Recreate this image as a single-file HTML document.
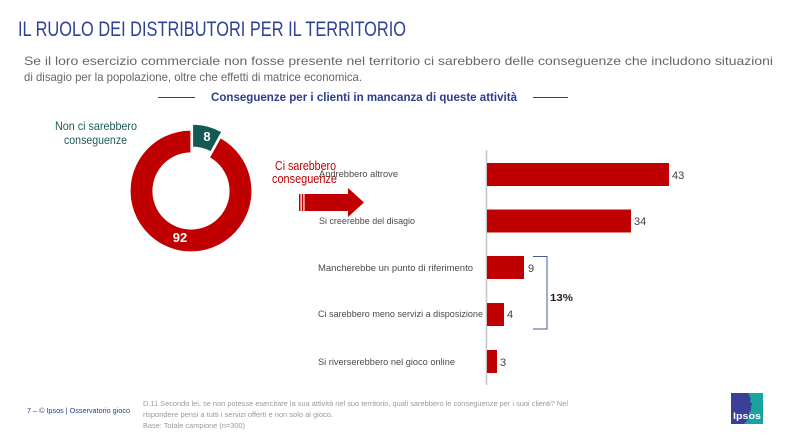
<!DOCTYPE html>
<html>
<head>
<meta charset="utf-8">
<style>
html,body{margin:0;padding:0;background:#fff;}
svg{display:block;}
text{font-family:"Liberation Sans",sans-serif;}
</style>
</head>
<body>
<svg width="786" height="436" viewBox="0 0 786 436" xmlns="http://www.w3.org/2000/svg">
<rect width="786" height="436" fill="#fff"/>

<!-- Title -->
<text x="18" y="36" font-size="21" fill="#2e4193" textLength="388" lengthAdjust="spacingAndGlyphs">IL RUOLO DEI DISTRIBUTORI PER IL TERRITORIO</text>

<!-- Subtitle -->
<text x="24" y="65" font-size="12" fill="#666" textLength="749" lengthAdjust="spacingAndGlyphs">Se il loro esercizio commerciale non fosse presente nel territorio ci sarebbero delle conseguenze che includono situazioni</text>
<text x="24" y="81" font-size="12" fill="#666" textLength="338" lengthAdjust="spacingAndGlyphs">di disagio per la popolazione, oltre che effetti di matrice economica.</text>

<!-- Section heading -->
<line x1="158" y1="97.5" x2="195" y2="97.5" stroke="#2b3d8f" stroke-width="1"/>
<line x1="533" y1="97.5" x2="568" y2="97.5" stroke="#2b3d8f" stroke-width="1"/>
<text x="211" y="101" font-size="12" font-weight="bold" fill="#2b3d8f" textLength="306" lengthAdjust="spacingAndGlyphs">Conseguenze per i clienti in mancanza di queste attività</text>

<!-- Donut -->
<path d="M220.39,137.55 A61,61 0 1 1 191,130 L191,153 A38,38 0 1 0 209.31,157.70 Z" fill="#c00000" stroke="#fff" stroke-width="1.2"/>
<path d="M192.5,124.2 A61,61 0 0 1 221.9,131.75 L210.8,151.9 A38,38 0 0 0 192.5,147.2 Z" fill="#135a55" stroke="#fff" stroke-width="1.2"/>
<text x="207" y="141" font-size="13" font-weight="bold" fill="#fff" text-anchor="middle">8</text>
<text x="180" y="242" font-size="13" font-weight="bold" fill="#fff" text-anchor="middle">92</text>

<text x="55" y="130" font-size="12" fill="#1a5c58" textLength="82" lengthAdjust="spacingAndGlyphs">Non ci sarebbero</text>
<text x="64" y="144" font-size="12" fill="#1a5c58" textLength="63" lengthAdjust="spacingAndGlyphs">conseguenze</text>

<text x="275" y="170" font-size="12.5" fill="#c00000" textLength="61" lengthAdjust="spacingAndGlyphs">Ci sarebbero</text>
<text x="272" y="183" font-size="12.5" fill="#c00000" textLength="65" lengthAdjust="spacingAndGlyphs">conseguenze</text>

<!-- Arrow -->
<rect x="299" y="194" width="1.5" height="17" fill="#c00000"/>
<rect x="301.8" y="194" width="1.5" height="17" fill="#c00000"/>
<polygon points="304.5,194 348,194 348,188 364,202.5 348,217 348,211 304.5,211" fill="#c00000"/>

<!-- Category labels -->
<text x="319" y="177" font-size="9.5" fill="#4a4a4a" textLength="79" lengthAdjust="spacingAndGlyphs">Andrebbero altrove</text>
<text x="319" y="224" font-size="9.5" fill="#4a4a4a" textLength="96" lengthAdjust="spacingAndGlyphs">Si creerebbe del disagio</text>
<text x="318" y="271" font-size="9.5" fill="#4a4a4a" textLength="155" lengthAdjust="spacingAndGlyphs">Mancherebbe un punto di riferimento</text>
<text x="318" y="317" font-size="9.5" fill="#4a4a4a" textLength="165" lengthAdjust="spacingAndGlyphs">Ci sarebbero meno servizi a disposizione</text>
<text x="318" y="365" font-size="9.5" fill="#4a4a4a" textLength="137" lengthAdjust="spacingAndGlyphs">Si riverserebbero nel gioco online</text>

<!-- Axis -->
<line x1="486.5" y1="150" x2="486.5" y2="385" stroke="#c6c6c6" stroke-width="1.5"/>

<!-- Bars -->
<rect x="487" y="163" width="182" height="23" fill="#c00000"/>
<rect x="487" y="209.5" width="144" height="23" fill="#c00000"/>
<rect x="487" y="256" width="37" height="23" fill="#c00000"/>
<rect x="487" y="303" width="17" height="23" fill="#c00000"/>
<rect x="487" y="350" width="10" height="23" fill="#c00000"/>

<!-- Values -->
<text x="672" y="179" font-size="11" fill="#404040">43</text>
<text x="634" y="225" font-size="11" fill="#404040">34</text>
<text x="528" y="272" font-size="11" fill="#404040">9</text>
<text x="507" y="318" font-size="11" fill="#404040">4</text>
<text x="500" y="366" font-size="11" fill="#404040">3</text>

<!-- Bracket -->
<path d="M533,256.5 H547 V329 H533" fill="none" stroke="#4a5a9a" stroke-width="1"/>
<text x="550" y="301" font-size="10.5" font-weight="bold" fill="#222" textLength="23" lengthAdjust="spacingAndGlyphs">13%</text>

<!-- Footer -->
<text x="27" y="413" font-size="7.5" fill="#2b3d8f" textLength="103" lengthAdjust="spacingAndGlyphs">7 –  © Ipsos |  Osservatorio gioco</text>
<text x="143" y="406" font-size="7.5" fill="#999" textLength="425" lengthAdjust="spacingAndGlyphs">D.11 Secondo lei, se non potesse esercitare la sua attività nel suo territorio, quali sarebbero le conseguenze per i suoi clienti? Nel</text>
<text x="143" y="417" font-size="7.5" fill="#999" textLength="190" lengthAdjust="spacingAndGlyphs">rispondere pensi a tutti i servizi offerti e non solo al gioco.</text>
<text x="143" y="428" font-size="7.5" fill="#999" textLength="102" lengthAdjust="spacingAndGlyphs">Base: Totale campione (n=300)</text>

<!-- Logo -->
<rect x="731" y="393" width="32" height="31" fill="#3a3f98"/>
<path d="M748,393 H763 V424 H744 C748,420 750,416 749,412 C752,410 751,408 751,406 C753,405 752,403 750,402 C751,399 750,396 748,393 Z" fill="#17a3a0"/>
<text x="733" y="419" font-size="9" font-weight="bold" fill="#fff" textLength="28" lengthAdjust="spacingAndGlyphs">Ipsos</text>
</svg>
</body>
</html>
